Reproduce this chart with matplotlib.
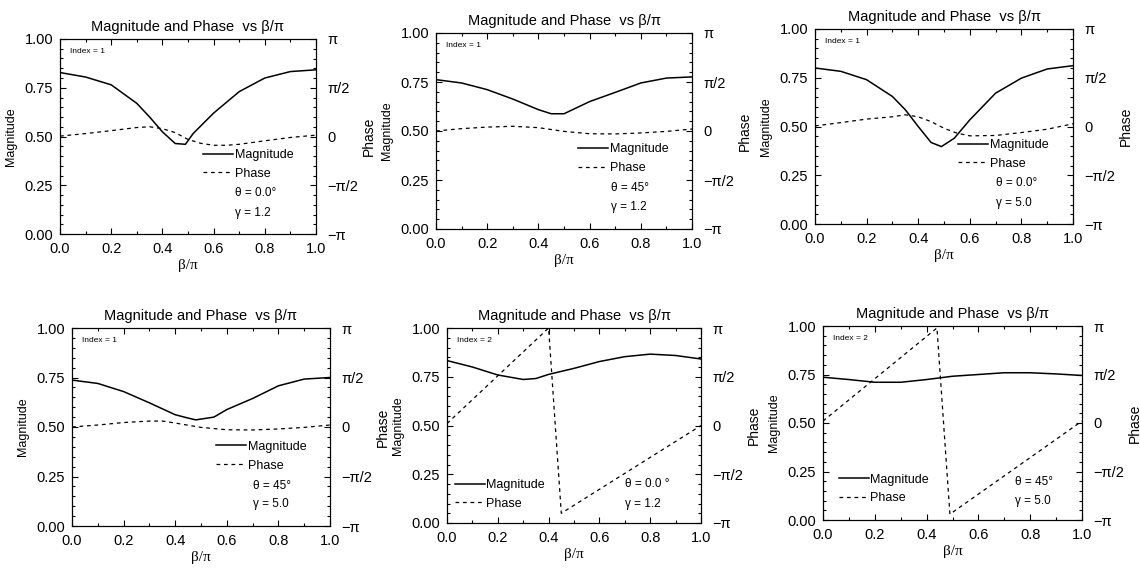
import numpy as np
import matplotlib
matplotlib.use("Agg")
from matplotlib import pyplot as plt
from matplotlib.ticker import MultipleLocator, AutoMinorLocator

plt.rcParams['font.family'] = ['Liberation Sans', 'DejaVu Sans']

# ---- data (phase given in units of pi) ----
mag_x1 = [0, 0.1, 0.2, 0.3, 0.35, 0.4, 0.45, 0.49, 0.52, 0.6, 0.7, 0.8, 0.9, 1.0]
mag1 = [0.828, 0.805, 0.765, 0.67, 0.60, 0.524, 0.464, 0.46, 0.515, 0.62, 0.73, 0.80, 0.833, 0.842]
ph_x1 = [0, 0.1, 0.2, 0.3, 0.35, 0.4, 0.45, 0.5, 0.55, 0.6, 0.65, 0.7, 0.8, 0.9, 1.0]
ph1 = [0.004, 0.03, 0.06, 0.092, 0.10, 0.08, 0.04, -0.03, -0.07, -0.09, -0.09, -0.08, -0.044, -0.01, 0.014]

mag_x2 = [0, 0.1, 0.2, 0.3, 0.4, 0.45, 0.5, 0.6, 0.7, 0.8, 0.9, 1.0]
mag2 = [0.762, 0.745, 0.711, 0.663, 0.609, 0.588, 0.588, 0.65, 0.697, 0.745, 0.77, 0.776]
ph_x2 = [0, 0.1, 0.2, 0.3, 0.4, 0.5, 0.6, 0.7, 0.8, 0.9, 1.0]
ph2 = [0.0, 0.024, 0.04, 0.048, 0.034, -0.004, -0.028, -0.03, -0.02, -0.004, 0.02]

mag_x3 = [0, 0.1, 0.2, 0.3, 0.35, 0.4, 0.45, 0.49, 0.54, 0.6, 0.7, 0.8, 0.9, 1.0]
mag3 = [0.80, 0.783, 0.74, 0.654, 0.586, 0.5, 0.418, 0.397, 0.44, 0.534, 0.671, 0.748, 0.795, 0.812]
ph_x3 = [0, 0.1, 0.2, 0.3, 0.35, 0.4, 0.45, 0.5, 0.55, 0.6, 0.7, 0.8, 0.9, 1.0]
ph3 = [0.006, 0.04, 0.076, 0.10, 0.12, 0.10, 0.05, -0.018, -0.068, -0.096, -0.092, -0.062, -0.028, 0.028]

mag_x4 = [0, 0.1, 0.2, 0.3, 0.4, 0.45, 0.48, 0.55, 0.6, 0.7, 0.8, 0.9, 1.0]
mag4 = [0.737, 0.72, 0.679, 0.622, 0.562, 0.545, 0.536, 0.55, 0.588, 0.644, 0.708, 0.742, 0.75]
ph_x4 = [0, 0.1, 0.2, 0.3, 0.35, 0.4, 0.5, 0.6, 0.7, 0.8, 0.9, 1.0]
ph4 = [0.0, 0.02, 0.045, 0.06, 0.06, 0.04, -0.004, -0.028, -0.03, -0.02, -0.004, 0.02]

mag_x5 = [0, 0.1, 0.2, 0.3, 0.35, 0.4, 0.5, 0.6, 0.7, 0.8, 0.9, 1.0]
mag5 = [0.833, 0.80, 0.759, 0.736, 0.741, 0.762, 0.793, 0.828, 0.853, 0.866, 0.859, 0.841]
ph_x5 = [0, 0.4, 0.45, 1.0]
ph5 = [0.02, 1.0, -0.9, 0.0]

mag_x6 = [0, 0.1, 0.2, 0.3, 0.4, 0.5, 0.6, 0.7, 0.8, 0.9, 1.0]
mag6 = [0.736, 0.724, 0.71, 0.71, 0.724, 0.741, 0.75, 0.759, 0.759, 0.753, 0.745]
ph_x6 = [0, 0.44, 0.49, 1.0]
ph6 = [0.02, 0.98, -0.94, 0.02]

index_labels = ['Index = 1', 'Index = 1', 'Index = 1', 'Index = 1', 'Index = 2', 'Index = 2']
theta_labels = ['θ = 0.0°', 'θ = 45°', 'θ = 0.0°', 'θ = 45°', 'θ = 0.0 °', 'θ = 45°']
gamma_labels = ['γ = 1.2', 'γ = 1.2', 'γ = 5.0', 'γ = 5.0', 'γ = 1.2', 'γ = 5.0']

panels = [(mag_x1, mag1, ph_x1, ph1), (mag_x2, mag2, ph_x2, ph2), (mag_x3, mag3, ph_x3, ph3),
          (mag_x4, mag4, ph_x4, ph4), (mag_x5, mag5, ph_x5, ph5), (mag_x6, mag6, ph_x6, ph6)]

# layout: axes boxes in pixels (left, right, top, bottom) of a 1140x568 image
W, H = 1140, 568
boxes = [(60, 316, 39, 234), (436, 692, 33, 229), (815, 1073, 29, 224),
         (72, 330, 328, 526), (447, 701, 328, 523), (823, 1082, 326, 520)]
# legend anchor (x, y mid) and theta/gamma text positions in axes fraction
leg_pos = [(0.56, 0.357), (0.555, 0.36), (0.555, 0.357), (0.558, 0.352), (0.03, 0.147), (0.06, 0.16)]
txt_pos = [(0.684, 0.21, 0.11), (0.684, 0.21, 0.113), (0.70, 0.212, 0.11),
           (0.70, 0.20, 0.11), (0.70, 0.20, 0.10), (0.742, 0.197, 0.10)]

fig = plt.figure(figsize=(W / 100, H / 100), dpi=100)

for k, (mx, my, px, py) in enumerate(panels):
    L, R, T, B = boxes[k]
    ax = fig.add_axes([L / W, (H - B) / H, (R - L) / W, (B - T) / H])
    ax2 = ax.twinx()
    l1, = ax.plot(mx, my, color='black', lw=1.1, label='Magnitude')
    l2, = ax2.plot(px, np.array(py) * np.pi, color='black', lw=0.9, ls=(0, (3, 3)), label='Phase')

    ax.set_xlim(0, 1)
    ax.set_ylim(0, 1)
    ax2.set_ylim(-np.pi, np.pi)
    ax.xaxis.set_major_locator(MultipleLocator(0.2))
    ax.xaxis.set_minor_locator(MultipleLocator(0.1))
    ax.yaxis.set_major_locator(MultipleLocator(0.25))
    ax.yaxis.set_minor_locator(AutoMinorLocator(5))
    ax.xaxis.set_major_formatter(plt.FormatStrFormatter('%.1f'))
    ax.yaxis.set_major_formatter(plt.FormatStrFormatter('%.2f'))
    ax2.set_yticks([-np.pi, -np.pi / 2, 0, np.pi / 2, np.pi])
    ax2.set_yticklabels(['−π', '−π/2', '0', 'π/2', 'π'])
    ax2.yaxis.set_minor_locator(AutoMinorLocator(5))

    ax.tick_params(which='both', direction='in', top=True, labelsize=10.5, width=0.8)
    ax.tick_params(which='major', length=4)
    ax.tick_params(which='minor', length=2.5)
    ax.tick_params(axis='y', pad=5)
    ax.tick_params(axis='x', pad=6)
    ax2.tick_params(which='both', direction='in', labelsize=10.5, width=0.8, pad=8)
    ax2.tick_params(which='major', length=4)
    ax2.tick_params(which='minor', length=2.5)

    ax.set_title('Magnitude and Phase  vs β/π', fontsize=10.5, pad=6)
    ax.set_xlabel('β/π', fontsize=11, family=['Liberation Serif', 'DejaVu Serif'], labelpad=2)
    ax.set_ylabel('Magnitude', fontsize=9, labelpad=5)
    ax2.set_ylabel('Phase', fontsize=10, labelpad=3)

    ax.text(0.04, 0.935, index_labels[k], transform=ax.transAxes, fontsize=6, va='center')
    lx, ly = leg_pos[k]
    ax.legend([l1, l2], ['Magnitude', 'Phase'], loc='center left', bbox_to_anchor=(lx, ly),
              frameon=False, fontsize=9, handlelength=2.4, handletextpad=0.15,
              labelspacing=0.55, borderpad=0, borderaxespad=0)
    tx, ty1, ty2 = txt_pos[k]
    ax.text(tx, ty1, theta_labels[k], transform=ax.transAxes, fontsize=8.5, va='center')
    ax.text(tx, ty2, gamma_labels[k], transform=ax.transAxes, fontsize=8.5, va='center')

fig.savefig('out.png', dpi=100)
